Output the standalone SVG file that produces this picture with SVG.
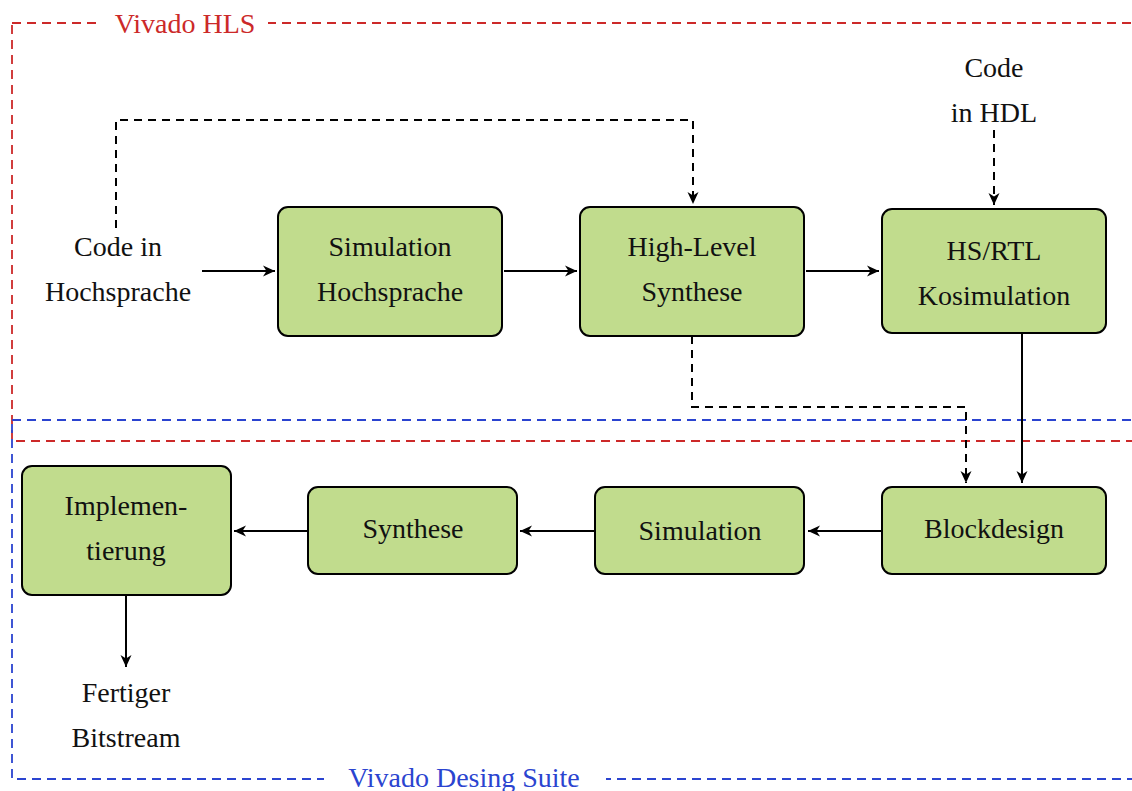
<svg xmlns="http://www.w3.org/2000/svg" width="1132" height="791" viewBox="0 0 1132 791">
  <style>
    .node rect { fill: #c1dc8d; stroke: #000; stroke-width: 2; }
    text { font-family: "Liberation Serif", "DejaVu Serif", serif; font-size: 28px; fill: #111; text-anchor: middle; }
    .frame { fill: none; stroke-width: 1.8; stroke-dasharray: 9 6; }
    .hls { stroke: #cc2929; }
    .vds { stroke: #2b44d0; }
    .edge { fill: none; stroke: #000; stroke-width: 2; marker-end: url(#arrow); }
    .dash { stroke-dasharray: 8 6; }
  </style>
  <defs>
    <marker id="arrow" viewBox="-13 -7 14 14" refX="0" refY="0" markerWidth="14" markerHeight="14" markerUnits="userSpaceOnUse" orient="auto">
      <path d="M0,0 L-12,-5.5 L-8.5,0 L-12,5.5 Z" fill="#000"/>
    </marker>
  </defs>
  <rect width="1132" height="791" fill="#fff"/>

  <!-- tool frames -->
  <g id="frame-hls">
    <rect class="frame hls" x="12" y="23" width="1140" height="418"/>
    <rect x="100" y="8" width="168" height="30" fill="#fff"/>
    <text x="185" y="33" style="fill:#cc2929">Vivado HLS</text>
  </g>
  <g id="frame-vds">
    <rect class="frame vds" x="12" y="420" width="1140" height="359"/>
    <rect x="324" y="766" width="282" height="30" fill="#fff"/>
    <text x="464" y="787" style="fill:#2b44d0">Vivado Desing Suite</text>
  </g>

  <!-- plain text endpoints -->
  <g id="code-hochsprache">
    <text x="118" y="256">Code in</text>
    <text x="118" y="301">Hochsprache</text>
  </g>
  <g id="code-hdl">
    <text x="994" y="77">Code</text>
    <text x="994" y="122">in HDL</text>
  </g>
  <g id="bitstream">
    <text x="126" y="702">Fertiger</text>
    <text x="126" y="747">Bitstream</text>
  </g>

  <!-- process steps -->
  <g id="sim-hochsprache" class="node">
    <rect x="278" y="207" width="224" height="129" rx="10"/>
    <text x="390" y="256">Simulation</text>
    <text x="390" y="301">Hochsprache</text>
  </g>
  <g id="hls-synthese" class="node">
    <rect x="580" y="207" width="224" height="129" rx="10"/>
    <text x="692" y="256">High-Level</text>
    <text x="692" y="301">Synthese</text>
  </g>
  <g id="kosimulation" class="node">
    <rect x="882" y="209" width="224" height="124" rx="10"/>
    <text x="994" y="260">HS/RTL</text>
    <text x="994" y="305">Kosimulation</text>
  </g>
  <g id="blockdesign" class="node">
    <rect x="882" y="487" width="224" height="87" rx="10"/>
    <text x="994" y="538">Blockdesign</text>
  </g>
  <g id="simulation" class="node">
    <rect x="595" y="487" width="209" height="87" rx="10"/>
    <text x="700" y="540">Simulation</text>
  </g>
  <g id="synthese" class="node">
    <rect x="308" y="487" width="209" height="87" rx="10"/>
    <text x="413" y="538">Synthese</text>
  </g>
  <g id="implementierung" class="node">
    <rect x="22" y="466" width="209" height="129" rx="10"/>
    <text x="126" y="515">Implemen-</text>
    <text x="126" y="560">tierung</text>
  </g>

  <!-- connectors -->
  <g id="connectors">
    <path class="edge" d="M202,271 H275"/>
    <path class="edge" d="M504,271 H577"/>
    <path class="edge" d="M806,271 H879"/>
    <path class="edge dash" d="M116,228 V120 H693 V204"/>
    <path class="edge dash" d="M994,130 V205"/>
    <path class="edge" d="M1022,333 V483"/>
    <path class="edge dash" d="M692,336 V407 H966 V483"/>
    <path class="edge" d="M882,531 H808"/>
    <path class="edge" d="M595,531 H520"/>
    <path class="edge" d="M308,531 H234"/>
    <path class="edge" d="M126,595 V667"/>
  </g>
</svg>
